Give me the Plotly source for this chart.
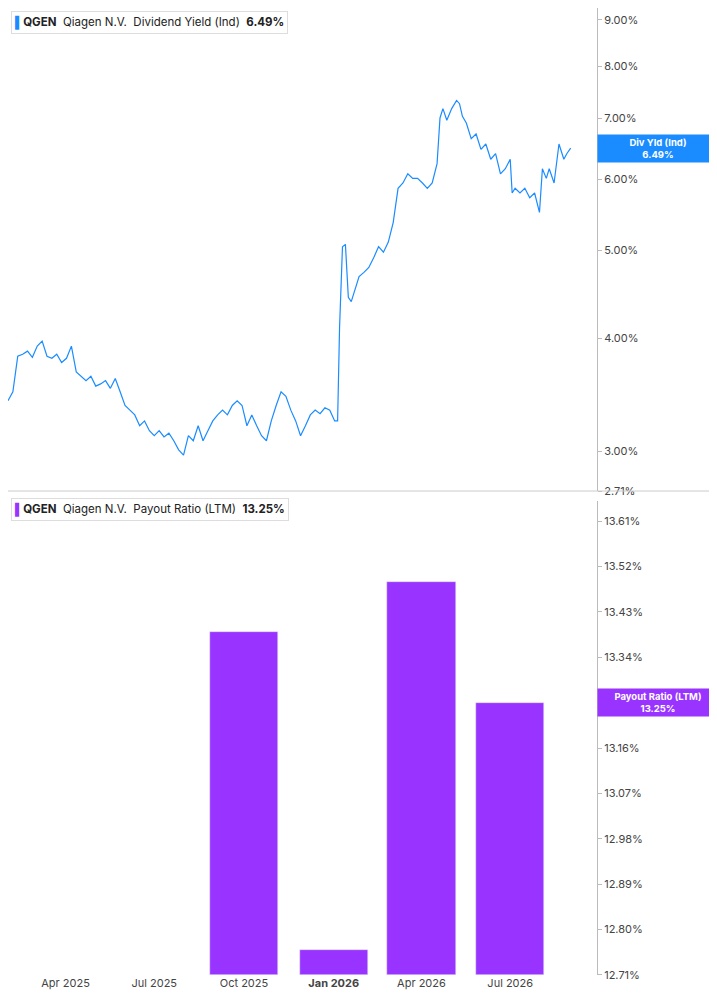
import pandas as pd
import plotly.graph_objects as go
from plotly.subplots import make_subplots

# dividend yield (%), day offsets from 2025-02-01
yld_days = [0, 5, 10, 15, 20, 25, 30, 35, 40, 45, 50, 55, 60, 65, 70, 75, 80, 85, 90, 95,
            100, 105, 110, 115, 120, 125, 130, 135, 140, 145, 150, 155, 160, 165, 170, 175,
            180, 185, 190, 195, 200, 205, 210, 215, 220, 225, 230, 235, 240, 245, 250, 255,
            260, 265, 270, 275, 280, 285, 290, 295, 300, 305, 310, 315, 320, 325, 330, 335,
            338, 340, 343, 346, 349, 352, 355, 360, 365, 370, 375, 380, 385, 390, 395, 400,
            405, 410, 415, 420, 425, 430, 435, 440, 443, 446, 450, 455, 460, 463, 466, 470,
            475, 480, 485, 490, 495, 500, 505, 510, 515, 517, 520, 525, 530, 535, 540, 545,
            548, 552, 555, 560, 565, 570, 573, 577]
yld = [3.41, 3.49, 3.82, 3.84, 3.87, 3.81, 3.92, 3.97, 3.82, 3.80, 3.84, 3.76, 3.80, 3.92,
       3.67, 3.63, 3.59, 3.63, 3.54, 3.56, 3.59, 3.52, 3.61, 3.49, 3.37, 3.33, 3.29, 3.20,
       3.24, 3.16, 3.12, 3.16, 3.11, 3.14, 3.08, 3.01, 2.97, 3.12, 3.08, 3.20, 3.08, 3.16,
       3.24, 3.29, 3.33, 3.29, 3.37, 3.41, 3.37, 3.20, 3.29, 3.20, 3.12, 3.08, 3.24, 3.37,
       3.49, 3.45, 3.33, 3.24, 3.12, 3.20, 3.29, 3.33, 3.30, 3.35, 3.33, 3.24, 3.24, 4.11,
       5.05, 5.08, 4.44, 4.39, 4.50, 4.68, 4.73, 4.79, 4.91, 5.05, 4.98, 5.11, 5.37, 5.86,
       5.94, 6.08, 6.01, 6.01, 5.94, 5.86, 5.94, 6.24, 7.01, 7.18, 6.97, 7.18, 7.33, 7.27,
       7.04, 6.92, 6.65, 6.73, 6.47, 6.56, 6.31, 6.40, 6.08, 6.16, 6.31, 5.79, 5.86, 5.79,
       5.86, 5.72, 5.79, 5.51, 6.16, 6.01, 6.16, 5.94, 6.56, 6.31, 6.40, 6.49]
yld_dates = pd.Timestamp("2025-02-01") + pd.to_timedelta(yld_days, unit="D")

# payout ratio (%)
pay_dates = ["2025-10-01", "2026-01-01", "2026-04-01", "2026-07-01"]
pay = [13.39, 12.76, 13.49, 13.25]

pay_ticks = [12.71, 12.80, 12.89, 12.98, 13.07, 13.16, 13.25, 13.34, 13.43, 13.52, 13.61]
yld_ticks = [2.71, 3, 4, 5, 6, 7, 8, 9]

blue = "#1a8cff"
purple = "#9933ff"

fig = make_subplots(rows=2, cols=1, shared_xaxes=True, vertical_spacing=0.0103,
                    row_heights=[0.4995, 0.4903])
fig.add_trace(go.Scatter(x=yld_dates, y=yld, mode="lines",
                         line=dict(color=blue, width=1.2)), row=1, col=1)
fig.add_trace(go.Bar(x=pd.to_datetime(pay_dates), y=[v - 12.71 for v in pay], base=12.71,
                     marker_color=purple, width=70 * 86400000), row=2, col=1)

xr = ["2025-02-01", "2026-09-28"]
fig.update_xaxes(range=xr, showgrid=False, showline=False, showticklabels=False, row=1, col=1)
fig.update_xaxes(range=xr, showgrid=False, showline=False, tickvals=pd.to_datetime(
    ["2025-04-01", "2025-07-01", "2025-10-01", "2026-01-01", "2026-04-01", "2026-07-01"]),
    ticktext=["Apr 2025", "Jul 2025", "Oct 2025", "<b>Jan 2026</b>", "Apr 2026", "Jul 2026"],
    ticks="", tickfont=dict(size=11, color="#444"), row=2, col=1)
fig.update_yaxes(type="log", range=[0.433, 0.9674], side="right", tickvals=yld_ticks,
                 ticktext=[f"{v:.2f}%" for v in yld_ticks], showgrid=False,
                 showline=True, linecolor="#bbb", ticks="outside", ticklen=4, tickcolor="#bbb",
                 tickfont=dict(size=11, color="#444"), row=1, col=1)
fig.update_yaxes(range=[12.71, 13.65], side="right", tickvals=pay_ticks,
                 ticktext=[f"{v:.2f}%" for v in pay_ticks], showgrid=False,
                 showline=True, linecolor="#bbb", ticks="outside", ticklen=4, tickcolor="#bbb",
                 tickfont=dict(size=11, color="#444"), row=2, col=1)

fig.add_shape(type="line", xref="paper", yref="paper", x0=0, x1=1.2, y0=0.5005, y1=0.5005,
              line=dict(color="#ccc", width=1))

def legend(y, color, name, val):
    fig.add_annotation(xref="paper", yref="paper", x=0.005, y=y, xanchor="left", yanchor="top",
                       showarrow=False, align="left", bgcolor="white", bordercolor="#ddd",
                       borderwidth=1, borderpad=3,
                       text=f"<span style='color:{color}'>▌</span><b>QGEN</b>  Qiagen N.V.  {name}  <b>{val}</b>",
                       font=dict(size=11.5, color="#222"))

legend(0.997, blue, "Dividend Yield (Ind)", "6.49%")
legend(0.493, purple, "Payout Ratio (LTM)", "13.25%")

fig.add_annotation(xref="paper", y=0.812, yref="y", x=1.0, xanchor="left", showarrow=False,
                   bgcolor=blue, borderpad=2, width=116, text="<b>Div Yld (Ind)<br>6.49%</b>",
                   font=dict(size=9.5, color="white"))
fig.add_annotation(xref="paper", y=13.25, yref="y2", x=1.0, xanchor="left", showarrow=False,
                   bgcolor=purple, borderpad=2, width=116, text="<b>Payout Ratio (LTM)<br>13.25%</b>",
                   font=dict(size=9.5, color="white"))

fig.update_layout(width=709, height=997, margin=dict(l=0, r=120, t=0, b=30),
                  plot_bgcolor="white", paper_bgcolor="white", showlegend=False,
                  font=dict(family="Inter, Roboto, sans-serif"), bargap=0)
fig.write_html("out.html")
